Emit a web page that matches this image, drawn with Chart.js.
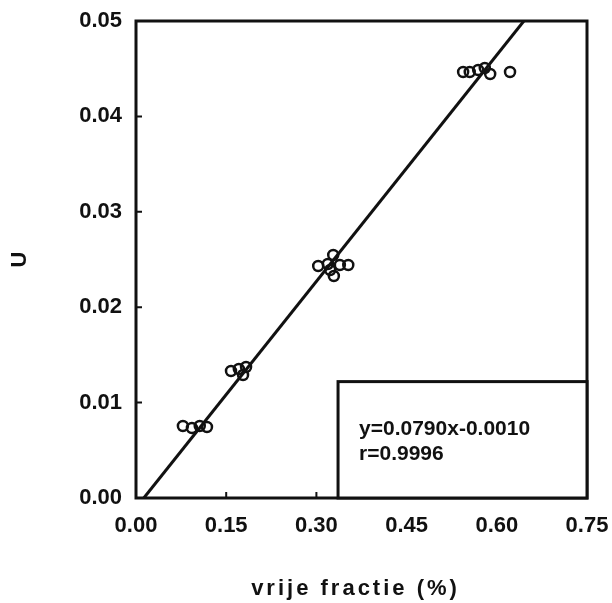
<!DOCTYPE html>
<html>
<head>
<meta charset="utf-8">
<script src="https://cdn.jsdelivr.net/npm/chart.js@4.4.0/dist/chart.umd.min.js"></script>
<style>
  html, body { margin: 0; padding: 0; background: #fff; overflow: hidden; }
  #wrap { width: 612px; height: 603px; }
</style>
</head>
<body>
<div id="wrap"><canvas id="c"></canvas></div>
<script>
// meetpunten (vrije fractie in %, U)
const pointsX = [
  0.544, 0.555, 0.569, 0.580, 0.589, 0.622,
  0.303, 0.319, 0.328, 0.329, 0.339, 0.353, 0.323,
  0.158, 0.171, 0.183, 0.178,
  0.078, 0.093, 0.106, 0.118
];
const pointsY = [
  0.04465, 0.04465, 0.04486, 0.04507, 0.04444, 0.04465,
  0.02432, 0.02453, 0.02547, 0.02327, 0.02442, 0.02442, 0.02390,
  0.01331, 0.01352, 0.01373, 0.01289,
  0.00755, 0.00734, 0.00755, 0.00744
];
const fitX = [0.013, 0.645];
const fitY = [0.0, 0.05];

const xTicks = [0.00, 0.15, 0.30, 0.45, 0.60, 0.75];
const yTicks = [0.00, 0.01, 0.02, 0.03, 0.04, 0.05];
const statLines = ["y=0.0790x-0.0010", "r=0.9996"];
const xTitle = "vrije fractie (%)";
// kader van het tekstvak in data-eenheden
const boxX = [0.336, 0.75];
const boxY = [0.0, 0.0122];

const ink = "#111";
const fontFam = "'Liberation Sans', Arial, sans-serif";

const scatterData = pointsX.map((x, i) => ({ x: x, y: pointsY[i] }));
const fitData = fitX.map((x, i) => ({ x: x, y: fitY[i] }));

const framePlugin = {
  id: "frame",
  afterDraw(chart) {
    const ctx = chart.ctx;
    const a = chart.chartArea;
    const xs = chart.scales.x;
    const ys = chart.scales.y;
    ctx.save();
    ctx.strokeStyle = ink;
    ctx.lineWidth = 3;
    ctx.strokeRect(a.left, a.top, a.right - a.left, a.bottom - a.top);

    // ticks naar binnen
    ctx.lineWidth = 2;
    ctx.beginPath();
    xTicks.forEach((v) => {
      const px = xs.getPixelForValue(v);
      ctx.moveTo(px, a.bottom);
      ctx.lineTo(px, a.bottom - 6);
    });
    yTicks.forEach((v) => {
      const py = ys.getPixelForValue(v);
      ctx.moveTo(a.left, py);
      ctx.lineTo(a.left + 6, py);
    });
    ctx.stroke();

    // tekstvak
    const bx0 = xs.getPixelForValue(boxX[0]);
    const bx1 = xs.getPixelForValue(boxX[1]);
    const by0 = ys.getPixelForValue(boxY[1]);
    const by1 = ys.getPixelForValue(boxY[0]);
    ctx.fillStyle = "#fff";
    ctx.fillRect(bx0, by0, bx1 - bx0, by1 - by0);
    ctx.lineWidth = 3;
    ctx.strokeRect(bx0, by0, bx1 - bx0, by1 - by0);

    ctx.fillStyle = ink;
    ctx.font = "bold 21px " + fontFam;
    ctx.textBaseline = "middle";
    ctx.textAlign = "left";
    ctx.fillText(statLines[0], bx0 + 21, by0 + 48);
    ctx.fillText(statLines[1], bx0 + 21, by0 + 73);

    // x-as titel, breed gespatieerd zoals in het origineel
    ctx.font = "bold 22px " + fontFam;
    ctx.letterSpacing = "3px";
    ctx.textAlign = "center";
    ctx.fillText(xTitle, (a.left + a.right) / 2 - 6, 589);
    ctx.restore();
  }
};

new Chart(document.getElementById("c"), {
  type: "scatter",
  data: {
    datasets: [
      {
        label: "meting",
        data: scatterData,
        borderColor: ink,
        backgroundColor: "rgba(0,0,0,0)",
        borderWidth: 2.5,
        pointRadius: 5,
        pointHoverRadius: 5,
        order: 2
      },
      {
        label: "fit",
        data: fitData,
        showLine: true,
        borderColor: ink,
        borderWidth: 3,
        pointRadius: 0,
        fill: false,
        order: 1
      }
    ]
  },
  options: {
    responsive: true,
    maintainAspectRatio: false,
    animation: false,
    events: [],
    layout: { padding: { top: 21, right: 25, left: 0, bottom: 0 } },
    plugins: {
      legend: { display: false },
      tooltip: { enabled: false }
    },
    scales: {
      x: {
        type: "linear",
        min: 0,
        max: 0.75,
        afterBuildTicks: (s) => { s.ticks = xTicks.map((v) => ({ value: v })); },
        afterFit: (s) => { s.height = 105; s.paddingLeft = 0; s.paddingRight = 0; },
        grid: { display: false, drawTicks: false },
        border: { display: false },
        ticks: {
          padding: 15,
          color: ink,
          font: { family: fontFam, size: 22, weight: "bold" },
          callback: (v) => v.toFixed(2)
        }
      },
      y: {
        type: "linear",
        min: 0,
        max: 0.05,
        afterBuildTicks: (s) => { s.ticks = yTicks.map((v) => ({ value: v })); },
        afterFit: (s) => { s.width = 136; s.paddingTop = 0; s.paddingBottom = 0; },
        grid: { display: false, drawTicks: false },
        border: { display: false },
        ticks: {
          padding: 14,
          color: ink,
          font: { family: fontFam, size: 22, weight: "bold" },
          callback: (v) => v.toFixed(2)
        },
        title: {
          display: true,
          text: "U",
          color: ink,
          font: { family: fontFam, size: 22, weight: "bold" },
          padding: { top: 7, bottom: 0 }
        }
      }
    }
  },
  plugins: [framePlugin]
});
</script>
</body>
</html>
